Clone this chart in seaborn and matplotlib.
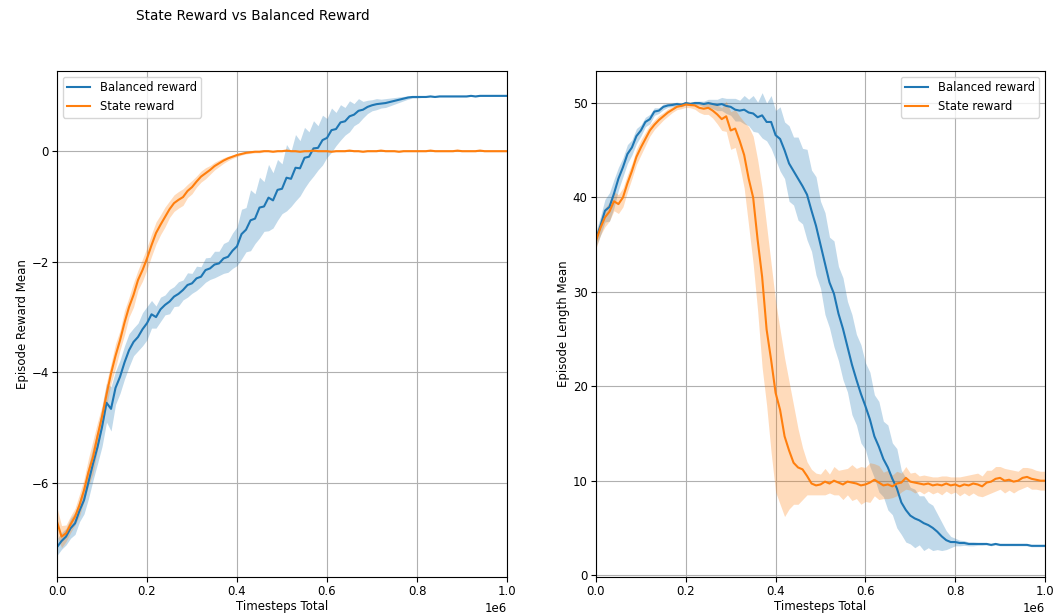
import numpy as np
import pandas as pd
import matplotlib
matplotlib.use("Agg")
import matplotlib.pyplot as plt
import seaborn as sns

# Training steps, one logged point every 10k timesteps
timesteps = np.arange(101) * 10000

series_names = ["Balanced reward", "State reward"]

# Episode reward mean and its spread
balanced_reward = [
    -7.16, -7.05, -6.97, -6.82, -6.73, -6.50, -6.31, -5.98, -5.65, -5.35,
    -4.99, -4.55, -4.66, -4.28, -4.08, -3.82, -3.60, -3.45, -3.36, -3.22,
    -3.11, -2.95, -3.00, -2.86, -2.78, -2.72, -2.63, -2.58, -2.51, -2.42,
    -2.39, -2.30, -2.27, -2.15, -2.12, -2.05, -2.03, -1.94, -1.91, -1.80,
    -1.72, -1.50, -1.42, -1.25, -1.22, -1.02, -1.00, -0.84, -0.89, -0.70,
    -0.68, -0.48, -0.50, -0.30, -0.31, -0.12, -0.10, 0.05, 0.06, 0.20,
    0.24, 0.38, 0.40, 0.52, 0.54, 0.63, 0.66, 0.73, 0.75, 0.80,
    0.83, 0.85, 0.86, 0.87, 0.89, 0.91, 0.93, 0.95, 0.97, 0.98,
    0.98, 0.98, 0.98, 0.99, 0.98, 0.99, 0.99, 0.99, 0.99, 0.99,
    0.99, 0.99, 1.00, 0.99, 1.00, 1.00, 1.00, 1.00, 1.00, 1.00, 1.00,
]
balanced_reward_sd = [
    0.15, 0.15, 0.15, 0.18, 0.20, 0.20, 0.25, 0.30, 0.30, 0.30,
    0.35, 0.35, 0.40, 0.30, 0.30, 0.30, 0.30, 0.25, 0.25, 0.30,
    0.30, 0.25, 0.20, 0.22, 0.18, 0.22, 0.18, 0.22, 0.18, 0.22,
    0.18, 0.22, 0.18, 0.22, 0.20, 0.24, 0.22, 0.27, 0.28, 0.32,
    0.35, 0.45, 0.40, 0.55, 0.45, 0.55, 0.45, 0.60, 0.50, 0.55,
    0.45, 0.60, 0.50, 0.60, 0.50, 0.55, 0.45, 0.50, 0.40, 0.45,
    0.35, 0.40, 0.30, 0.32, 0.25, 0.28, 0.20, 0.22, 0.15, 0.12,
    0.10, 0.10, 0.08, 0.08, 0.07, 0.06, 0.05, 0.04, 0.03, 0.02,
    0.02, 0.01, 0.01, 0.01, 0.01, 0.01, 0.01, 0.01, 0.01, 0.01,
    0.01, 0.01, 0.01, 0.01, 0.01, 0.01, 0.01, 0.01, 0.01, 0.01, 0.01,
]
state_reward = [
    -6.70, -6.97, -6.91, -6.75, -6.61, -6.40, -6.13, -5.80, -5.53, -5.15,
    -4.80, -4.40, -4.02, -3.70, -3.42, -3.10, -2.82, -2.60, -2.33, -2.15,
    -1.94, -1.70, -1.48, -1.33, -1.19, -1.05, -0.94, -0.88, -0.83, -0.72,
    -0.65, -0.55, -0.46, -0.40, -0.34, -0.27, -0.22, -0.17, -0.13, -0.10,
    -0.07, -0.05, -0.03, -0.02, -0.01, -0.01, 0.00, 0.00, -0.01, 0.00,
    0.00, 0.01, 0.00, 0.00, -0.01, 0.00, 0.00, 0.01, 0.00, 0.00,
    0.00, -0.01, 0.00, 0.00, 0.00, 0.01, 0.00, 0.00, -0.01, 0.00,
    0.00, 0.00, 0.01, 0.00, 0.00, 0.00, -0.01, 0.00, 0.00, 0.00,
    0.00, 0.00, 0.00, 0.01, 0.00, 0.00, 0.00, 0.00, 0.00, 0.01,
    0.00, 0.00, 0.00, 0.00, 0.01, 0.00, 0.00, 0.00, 0.00, 0.00, 0.00,
]
state_reward_sd = [
    0.25, 0.20, 0.15, 0.15, 0.15, 0.20, 0.20, 0.25, 0.30, 0.25,
    0.20, 0.22, 0.18, 0.22, 0.18, 0.22, 0.18, 0.22, 0.18, 0.20,
    0.20, 0.20, 0.20, 0.18, 0.18, 0.15, 0.15, 0.15, 0.15, 0.12,
    0.12, 0.10, 0.10, 0.10, 0.08, 0.07, 0.06, 0.05, 0.04, 0.03,
    0.03, 0.02, 0.02, 0.02, 0.02, 0.02, 0.01, 0.01, 0.01, 0.01,
    0.01, 0.01, 0.01, 0.01, 0.01, 0.01, 0.01, 0.01, 0.01, 0.01,
    0.01, 0.01, 0.01, 0.01, 0.01, 0.01, 0.01, 0.01, 0.01, 0.01,
    0.01, 0.01, 0.01, 0.01, 0.01, 0.01, 0.01, 0.01, 0.01, 0.01,
    0.01, 0.01, 0.01, 0.01, 0.01, 0.01, 0.01, 0.01, 0.01, 0.01,
    0.01, 0.01, 0.01, 0.01, 0.01, 0.01, 0.01, 0.01, 0.01, 0.01, 0.01,
]

# Episode length mean and its spread
balanced_length = [
    35.6, 37.0, 38.6, 39.0, 40.4, 42.0, 43.2, 44.6, 45.3, 46.5,
    47.1, 48.0, 48.3, 49.1, 49.2, 49.6, 49.75, 49.8, 49.9, 49.8,
    50.0, 49.9, 50.0, 50.0, 49.9, 50.0, 49.9, 49.8, 49.9, 49.7,
    49.6, 49.3, 49.2, 49.3, 49.0, 48.9, 48.5, 48.7, 48.0, 48.0,
    46.6, 46.2, 45.0, 43.6, 42.8, 42.0, 41.2, 40.3, 38.6, 37.0,
    35.0, 33.0, 31.0, 29.8, 27.7, 26.1, 24.2, 22.3, 20.7, 19.2,
    17.9, 16.5, 14.7, 13.6, 12.3, 11.4, 10.2, 9.2, 7.7, 6.9,
    6.3, 6.0, 5.8, 5.5, 5.3, 5.0, 4.6, 4.1, 3.7, 3.5,
    3.5, 3.4, 3.4, 3.3, 3.3, 3.3, 3.3, 3.3, 3.2, 3.3,
    3.2, 3.2, 3.2, 3.2, 3.2, 3.2, 3.2, 3.1, 3.1, 3.1, 3.1,
]
balanced_length_sd = [
    0.8, 1.0, 1.2, 1.5, 1.5, 1.2, 1.0, 1.0, 0.8, 0.8,
    0.6, 0.5, 0.5, 0.4, 0.3, 0.3, 0.2, 0.2, 0.2, 0.2,
    0.2, 0.2, 0.2, 0.2, 0.3, 0.4, 0.5, 0.6, 0.7, 0.8,
    0.9, 1.2, 1.1, 1.5, 1.4, 1.9, 1.6, 2.4, 2.0, 2.8,
    2.6, 3.4, 3.0, 4.0, 3.6, 4.4, 4.0, 4.8, 4.3, 5.2,
    4.6, 5.4, 4.8, 5.6, 5.0, 5.4, 4.8, 5.3, 4.8, 5.2,
    4.6, 5.0, 4.4, 4.8, 4.0, 4.5, 3.8, 4.2, 3.4, 3.4,
    3.0, 3.1, 2.6, 2.9, 2.4, 2.4, 1.9, 1.5, 1.0, 0.6,
    0.4, 0.3, 0.25, 0.2, 0.2, 0.15, 0.15, 0.1, 0.1, 0.1,
    0.1, 0.1, 0.1, 0.1, 0.1, 0.1, 0.1, 0.1, 0.1, 0.1, 0.1,
]
state_length = [
    35.4, 36.8, 37.9, 38.5, 39.6, 39.3, 40.0, 41.5, 42.8, 44.3,
    45.3, 46.2, 47.1, 47.7, 48.2, 48.6, 49.0, 49.3, 49.6, 49.7,
    49.85, 49.8, 49.75, 49.5, 49.4, 49.5, 49.2, 48.8, 48.3, 48.6,
    47.1, 47.3, 46.0, 44.5, 42.0, 40.0, 35.5, 31.6, 26.0, 22.8,
    19.3, 17.5, 14.7, 13.2, 11.9, 11.4, 11.2, 10.5, 9.7, 9.5,
    9.6, 9.9, 9.7, 10.0, 9.8, 9.6, 9.9, 9.8, 9.7, 9.5,
    9.6, 9.8, 10.1, 9.8, 9.5, 9.6, 9.4, 9.7, 9.8, 10.3,
    9.9, 9.8, 9.7, 9.6, 9.7, 9.5, 9.6, 9.5, 9.7, 9.5,
    9.6, 9.4, 9.6, 9.5, 9.7, 9.6, 9.4, 9.8, 9.9, 10.2,
    10.3, 10.0, 10.1, 9.9, 10.0, 10.3, 10.4, 10.2, 10.1, 10.0, 10.0,
]
# spread below / above the state-reward length mean
state_length_dn = [
    0.8, 0.8, 1.0, 1.0, 1.0, 1.0, 1.0, 0.9, 0.8, 0.8,
    0.8, 0.7, 0.6, 0.5, 0.5, 0.4, 0.4, 0.3, 0.3, 0.3,
    0.3, 0.3, 0.4, 0.5, 0.6, 0.7, 0.8, 1.0, 1.2, 1.6,
    2.0, 2.0, 2.6, 3.5, 5.0, 7.0, 7.5, 9.6, 8.0, 9.8,
    10.5, 10.0, 8.5, 6.2, 4.4, 3.9, 3.2, 2.0, 1.2, 1.0,
    1.1, 1.4, 1.0, 1.5, 1.3, 1.6, 1.4, 1.9, 1.6, 2.0,
    1.8, 2.1, 1.7, 1.8, 1.4, 1.5, 1.2, 1.3, 1.0, 1.2,
    0.9, 1.1, 0.8, 1.0, 0.8, 0.9, 0.8, 1.0, 0.8, 0.9,
    0.8, 1.0, 0.9, 1.1, 1.0, 1.2, 1.1, 1.3, 1.2, 1.3,
    1.2, 1.3, 1.1, 1.2, 1.0, 1.1, 1.0, 1.1, 1.0, 1.0, 1.0,
]
state_length_up = [
    0.8, 0.8, 1.0, 1.0, 1.0, 1.0, 1.0, 0.9, 0.8, 0.8,
    0.8, 0.7, 0.6, 0.5, 0.5, 0.4, 0.4, 0.3, 0.3, 0.3,
    0.3, 0.3, 0.4, 0.5, 0.6, 0.7, 0.8, 1.0, 1.2, 1.6,
    2.0, 2.0, 2.6, 3.5, 5.5, 6.5, 8.5, 9.4, 11.0, 10.2,
    9.7, 8.5, 8.3, 7.3, 6.1, 4.1, 2.3, 1.5, 1.5, 1.3,
    1.1, 1.4, 1.0, 1.5, 1.3, 1.6, 1.4, 1.9, 1.6, 2.0,
    1.8, 2.1, 1.7, 1.8, 1.4, 1.5, 1.2, 1.3, 1.0, 1.2,
    0.9, 1.1, 0.8, 1.0, 0.8, 0.9, 0.8, 1.0, 0.8, 0.9,
    0.8, 1.0, 0.9, 1.1, 1.0, 1.2, 1.1, 1.3, 1.2, 1.3,
    1.2, 1.3, 1.1, 1.2, 1.0, 1.1, 1.0, 1.1, 1.0, 1.0, 1.0,
]

colors = ["#1f77b4", "#ff7f0e"]


def long_frame(values_by_series, column):
    parts = []
    for name, vals in zip(series_names, values_by_series):
        parts.append(pd.DataFrame({"step": timesteps, column: vals, "run": name}))
    return pd.concat(parts, ignore_index=True)


reward_df = long_frame([balanced_reward, state_reward], "reward")
length_df = long_frame([balanced_length, state_length], "length")

plt.rcParams.update({
    "font.family": "DejaVu Sans",
    "font.size": 8.5,
    "xtick.labelsize": 8.5,
    "ytick.labelsize": 8.5,
    "axes.labelsize": 8.5,
    "legend.fontsize": 8.3,
    "xtick.major.pad": 2.5,
    "ytick.major.pad": 2.5,
})

fig = plt.figure(figsize=(10.62, 6.14), dpi=100)
ax1 = fig.add_axes([0.0537, 0.0603, 0.4237, 0.8241])
ax2 = fig.add_axes([0.5612, 0.0603, 0.4228, 0.8241])

# Left panel: reward
for name, mean, sd, c in zip(series_names,
                             [balanced_reward, state_reward],
                             [balanced_reward_sd, state_reward_sd], colors):
    m = np.asarray(mean)
    s = np.asarray(sd)
    ax1.fill_between(timesteps, m - s, m + s, color=c, alpha=0.28, linewidth=0)
sns.lineplot(data=reward_df, x="step", y="reward", hue="run",
             hue_order=series_names, palette=colors, errorbar=None,
             linewidth=1.5, ax=ax1)

# Right panel: episode length
bl = np.asarray(balanced_length)
bs = np.asarray(balanced_length_sd)
ax2.fill_between(timesteps, bl - bs, bl + bs, color=colors[0], alpha=0.28, linewidth=0)
sl = np.asarray(state_length)
ax2.fill_between(timesteps, sl - np.asarray(state_length_dn),
                 sl + np.asarray(state_length_up), color=colors[1], alpha=0.28, linewidth=0)
sns.lineplot(data=length_df, x="step", y="length", hue="run",
             hue_order=series_names, palette=colors, errorbar=None,
             linewidth=1.5, ax=ax2)

ax1.set_xlim(0, 1e6)
ax1.set_ylim(-7.7, 1.45)
ax1.set_xlabel("Timesteps Total", labelpad=1)
ax1.set_ylabel("Episode Reward Mean", labelpad=2)
ax1.grid(True, color="#b0b0b0", linewidth=0.8)
ax1.legend(loc="upper left", title=None)

ax2.set_xlim(0, 1e6)
ax2.set_ylim(-0.2, 53.4)
ax2.set_xlabel("Timesteps Total", labelpad=1)
ax2.set_ylabel("Episode Length Mean", labelpad=2)
ax2.grid(True, color="#b0b0b0", linewidth=0.8)
ax2.legend(loc="upper right", title=None)

for ax in (ax1, ax2):
    ax.set_axisbelow(True)
    ax.ticklabel_format(axis="x", style="sci", scilimits=(0, 0))
    ax.xaxis.get_offset_text().set_fontsize(8.5)

fig.suptitle("State Reward vs Balanced Reward", x=0.238, y=0.985, fontsize=9.8)

fig.savefig("out.png", dpi=100)
